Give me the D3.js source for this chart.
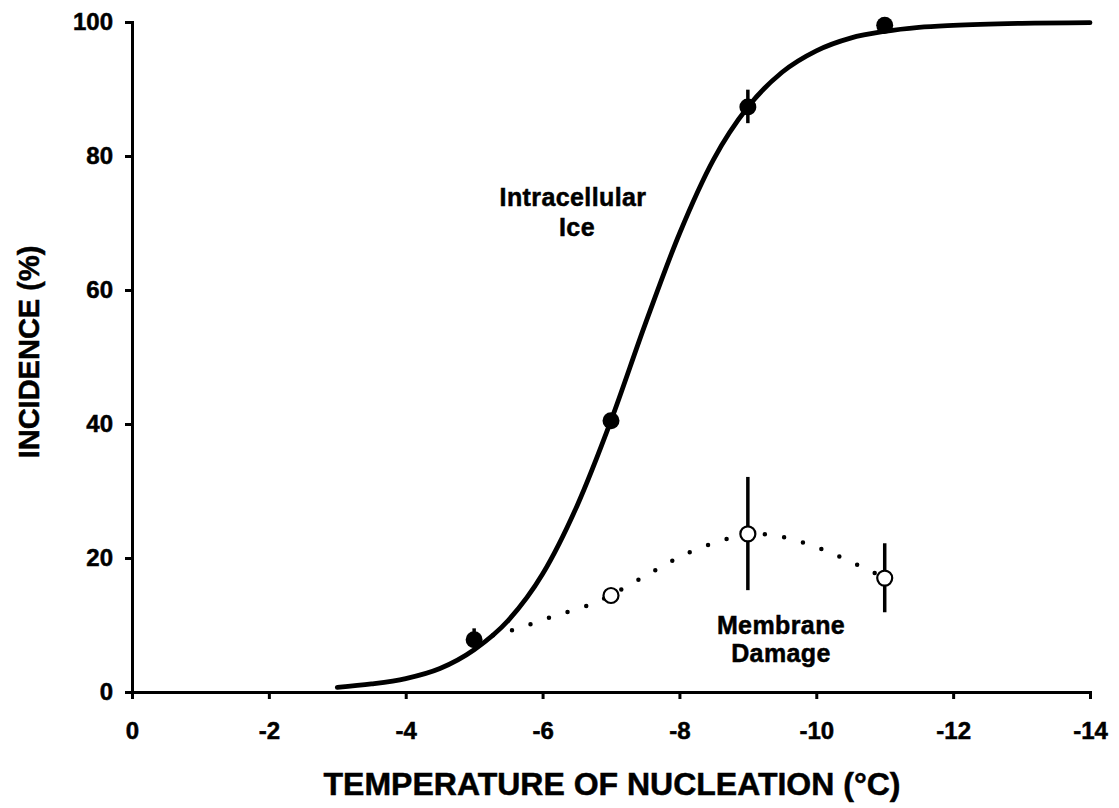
<!DOCTYPE html>
<html>
<head>
<meta charset="utf-8">
<script src="https://cdn.jsdelivr.net/npm/d3@7"></script>
<style>
  html, body { margin: 0; padding: 0; background: #fff; }
  svg text { font-family: "Liberation Sans", Arial, Helvetica, sans-serif; font-weight: bold; fill: #000; stroke: #000; stroke-width: 0.5px; }
</style>
</head>
<body>
<svg id="chart" width="1119" height="808"></svg>
<script>
// ---- data ----
const xTicks = [0, -2, -4, -6, -8, -10, -12, -14];
const yTicks = [0, 20, 40, 60, 80, 100];

// Intracellular ice (filled circles)
const iceTemp = [-5, -7, -9, -11];
const iceVal  = [7.8, 40.5, 87.3, 99.5];
const iceLo   = [7.0, 39.5, 84.9, 99.0];
const iceHi   = [9.5, 41.5, 89.9, 100.0];

// Fitted sigmoid curve for intracellular ice
const fitTemp = [-3, -3.5, -4, -4.5, -5, -5.5, -6, -6.5, -7, -7.5, -8, -8.5, -9, -9.5, -10, -10.5, -11, -11.5, -12, -13, -14];
const fitVal  = [0.7, 1.2, 2.0, 3.5, 6.3, 10.7, 17.6, 27.7, 40.5, 54.9, 68.4, 79.5, 87.3, 92.5, 95.7, 97.6, 98.6, 99.2, 99.5, 99.8, 99.9];

// Membrane damage (open circles)
const memTemp = [-7, -9, -11];
const memVal  = [14.4, 23.6, 17.0];
const memLo   = [14.4, 15.2, 11.9];
const memHi   = [14.4, 32.1, 22.2];

// Dotted trend line for membrane damage
const dotTemp = [-5, -5.56, -6.13, -6.68, -6.97, -7.53, -8.09, -8.68, -9.0, -9.52, -10.11, -10.66, -11];
const dotVal  = [7.8, 9.25, 11.2, 13.0, 14.3, 17.5, 20.6, 22.8, 23.6, 23.1, 21.2, 18.7, 17.0];

// ---- drawing ----
const svg = d3.select("#chart");
const x = d3.scaleLinear().domain([0, -14]).range([132, 1090]);
const y = d3.scaleLinear().domain([0, 100]).range([692, 22]);

const xAxis = d3.axisBottom(x).tickValues(xTicks).tickFormat(d3.format("d")).tickSize(7).tickPadding(23);
const yAxis = d3.axisLeft(y).tickValues(yTicks).tickFormat(d3.format("d")).tickSize(7).tickPadding(12);

const gx = svg.append("g").attr("transform", `translate(0,${y(0)})`).call(xAxis);
const gy = svg.append("g").attr("transform", `translate(${x(0)},0)`).call(yAxis);
[gx, gy].forEach(g => {
  g.select(".domain").attr("stroke", "#000").attr("stroke-width", 3).attr("fill", "none");
  g.selectAll(".tick line").attr("stroke", "#000").attr("stroke-width", 3);
  g.selectAll(".tick text").attr("font-size", 24).attr("font-family", null).attr("fill", "#000");
});
gx.selectAll(".tick text").text(d => d === 0 ? "0" : "-" + Math.abs(d));

// fitted curve
const line = d3.line().x(d => x(d[0])).y(d => y(d[1])).curve(d3.curveMonotoneX);
svg.append("path")
  .datum(fitTemp.map((t, i) => [t, fitVal[i]]))
  .attr("d", line)
  .attr("fill", "none").attr("stroke", "#000").attr("stroke-width", 4.8).attr("stroke-linecap", "round");

// dotted membrane curve
const dline = d3.line().x(d => x(d[0])).y(d => y(d[1])).curve(d3.curveCatmullRom);
svg.append("path")
  .datum(dotTemp.map((t, i) => [t, dotVal[i]]))
  .attr("d", dline)
  .attr("fill", "none").attr("stroke", "#000").attr("stroke-width", 4.5)
  .attr("stroke-linecap", "round").attr("stroke-dasharray", "0 19.5");

// error bars
const eb = svg.append("g").attr("stroke", "#000").attr("stroke-width", 3.5);
eb.selectAll("line.ice").data(iceTemp).join("line")
  .attr("x1", d => x(d)).attr("x2", d => x(d))
  .attr("y1", (d, i) => y(iceLo[i])).attr("y2", (d, i) => y(iceHi[i]));
eb.selectAll("line.mem").data(memTemp).join("line")
  .attr("x1", d => x(d)).attr("x2", d => x(d))
  .attr("y1", (d, i) => y(memLo[i])).attr("y2", (d, i) => y(memHi[i]));

// markers
svg.append("g").selectAll("circle").data(iceTemp).join("circle")
  .attr("cx", d => x(d)).attr("cy", (d, i) => y(iceVal[i])).attr("r", 8.5)
  .attr("fill", "#000");
svg.append("g").selectAll("circle").data(memTemp).join("circle")
  .attr("cx", d => x(d)).attr("cy", (d, i) => y(memVal[i])).attr("r", 7.5)
  .attr("fill", "#fff").attr("stroke", "#000").attr("stroke-width", 2.2);

// annotations
const ann = svg.append("g").attr("font-size", 25).attr("text-anchor", "middle").attr("letter-spacing", 0.4);
ann.append("text").attr("x", 573).attr("y", 206).text("Intracellular");
ann.append("text").attr("x", 577).attr("y", 236).text("Ice");
ann.append("text").attr("x", 781).attr("y", 634).text("Membrane");
ann.append("text").attr("x", 781).attr("y", 662).text("Damage");

// axis titles
svg.append("text").attr("x", 612).attr("y", 795).attr("text-anchor", "middle")
  .attr("font-size", 32).text("TEMPERATURE OF NUCLEATION (°C)");
svg.append("text").attr("transform", "translate(39,352) rotate(-90)").attr("text-anchor", "middle")
  .attr("font-size", 29).text("INCIDENCE (%)");
</script>
</body>
</html>
